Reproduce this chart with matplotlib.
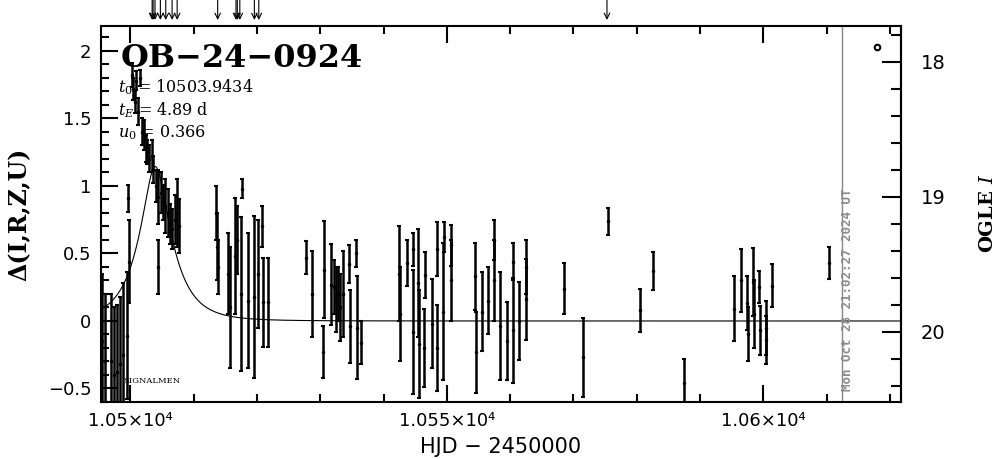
import numpy as np
import matplotlib
matplotlib.use('Agg')
import matplotlib.pyplot as plt
from matplotlib.ticker import MultipleLocator, FixedLocator, FixedFormatter

## OGLE light curve with a point-lens model

# event and model parameters (from the plot text)
event_name = "OB\u221224\u22120924"
t0 = 10503.9434
tE = 4.89
u0 = 0.366
i_base = 19.92          # OGLE I magnitude at delta = 0
now_hjd = 10612.38      # time stamp line

# photometry: HJD-2450000, delta mag, error
hjd = [10495.5, 10496.0, 10496.9, 10497.4, 10497.9, 10498.4, 10498.9, 10499.4,
       10499.6, 10499.8,
       10500.3, 10500.5, 10500.7, 10500.9, 10501.2, 10501.5, 10501.8, 10502.1,
       10502.4, 10502.7, 10503.0, 10503.4, 10503.6, 10504.0, 10504.3, 10504.4,
       10504.8, 10505.1, 10505.5, 10505.9, 10506.3, 10506.6, 10507.0, 10507.4,
       10507.7,
       10513.5, 10513.7, 10513.9, 10515.5, 10515.8, 10516.6, 10516.9, 10517.6,
       10517.5, 10518.6, 10519.6, 10520.2, 10520.8, 10520.9, 10521.7,
       10527.8, 10528.7, 10530.5, 10530.65, 10531.7, 10532.2, 10532.5, 10532.8,
       10533.2, 10533.55, 10534.6, 10534.65, 10535.65, 10535.8, 10536.45,
       10542.4, 10542.6, 10543.7, 10544.6, 10544.7, 10545.5, 10545.6, 10546.45,
       10546.55, 10547.6, 10548.4, 10548.5, 10549.45, 10549.6, 10550.6, 10550.65,
       10554.4, 10554.6, 10555.55, 10556.55, 10557.45, 10557.5, 10558.4, 10559.55,
       10560.5, 10560.4, 10561.45, 10562.5, 10562.55,
       10568.55, 10571.5, 10575.5, 10580.5, 10582.5, 10587.5,
       10595.35, 10596.4, 10597.4, 10597.55, 10598.4, 10598.5, 10599.35, 10599.5,
       10600.4, 10600.5, 10601.4, 10610.4]
delta = [-0.15, -0.30, -0.30, -0.40, -0.38, -0.32, -0.25, -0.11,
         0.91, 0.44,
         1.82, 1.72, 1.62, 1.78, 1.55, 1.80, 1.40, 1.38,
         1.28, 1.25, 1.20, 1.22, 1.12, 1.00, 0.92, 0.40,
         0.95, 0.88, 0.85, 0.80, 0.72, 0.68, 0.75, 0.80,
         0.70,
         0.80, 0.55, 0.40, 0.35, 0.10, 0.48, 0.60, 0.98,
         0.20, 0.15, 0.18, 0.35, 0.70, 0.14, 0.14,
         0.47, 0.20, -0.23, 0.38, 0.27, 0.25, 0.16, 0.20,
         0.10, 0.20, 0.42, -0.04, 0.50, -0.05, -0.16,
         0.35, 0.05, 0.43, -0.08, 0.53, 0.28, -0.17, -0.20,
         0.34, -0.02, 0.53, -0.20, 0.07, 0.62, 0.56, 0.30,
         0.33, -0.23, 0.07, 0.15, 0.60, 0.30, -0.04, -0.15,
         0.44, -0.07, 0.00, 0.40, 0.16,
         0.24, -0.27, 0.74, 0.08, 0.37, -0.46,
         0.09, 0.30, 0.13, -0.10, 0.29, 0.05, 0.25, -0.07,
         -0.05, -0.14, 0.26, 0.43]
err = [0.50, 0.50, 0.50, 0.50, 0.50, 0.50, 0.53, 0.47,
       0.10, 0.31,
       0.09, 0.08, 0.08, 0.07, 0.10, 0.06, 0.10, 0.11,
       0.10, 0.09, 0.10, 0.12, 0.10, 0.12, 0.20, 0.20,
       0.15, 0.13, 0.20, 0.18, 0.15, 0.15, 0.18, 0.25,
       0.20,
       0.20, 0.25, 0.20, 0.30, 0.45, 0.43, 0.25, 0.07,
       0.57, 0.50, 0.60, 0.40, 0.15, 0.33, 0.33,
       0.12, 0.32, 0.19, 0.36, 0.30, 0.20, 0.24, 0.20,
       0.25, 0.32, 0.14, 0.27, 0.10, 0.38, 0.16,
       0.35, 0.35, 0.17, 0.46, 0.12, 0.40, 0.40, 0.29,
       0.17, 0.33, 0.20, 0.32, 0.51, 0.11, 0.15, 0.30,
       0.25, 0.30, 0.29, 0.25, 0.15, 0.30, 0.40, 0.29,
       0.14, 0.39, 0.29, 0.20, 0.30,
       0.19, 0.29, 0.10, 0.16, 0.14, 0.18,
       0.24, 0.23, 0.20, 0.20, 0.25, 0.25, 0.12, 0.18,
       0.20, 0.18, 0.16, 0.12]

# alert arrows along the top
alert_times = [10503.45, 10503.6, 10503.9, 10504.75, 10505.6, 10506.6, 10507.4,
               10513.8, 10516.7, 10516.9, 10517.3, 10519.6, 10520.3, 10575.3]

xtick_vals = [10500, 10550, 10600]
xtick_labels = ['1.05\u00d710\u2074', '1.055\u00d710\u2074', '1.06\u00d710\u2074']
mag_ticks = [18, 19, 20]


def magnification(t):
    u = np.sqrt(u0**2 + ((t - t0) / tE)**2)
    return (u**2 + 2) / (u * np.sqrt(u**2 + 4))


plt.rcParams['mathtext.fontset'] = 'dejavuserif'
fig = plt.figure(figsize=(10.04, 4.59), dpi=100)
ax = fig.add_axes([0.1006, 0.1242, 0.7968, 0.8192])

xmin, xmax = 10495.37, 10621.75
ax.set_xlim(xmin, xmax)
ax.set_ylim(-0.60, 2.185)

# model curve
tt = np.linspace(xmin, xmax, 2000)
ax.plot(tt, 2.5 * np.log10(magnification(tt)), color='black', lw=0.8)

# data
ax.errorbar(hjd, delta, yerr=err, fmt='.', color='black', markersize=3,
            elinewidth=1.8, capsize=1.5, capthick=1.5)

# time-stamp line and text
ax.axvline(now_hjd, color='#888888', lw=1)
ax.text(now_hjd + 0.9, -0.52, 'Mon Oct 28 21:02:27 2024 UT', rotation=90,
        ha='center', va='bottom', color='#8c8c8c', fontsize=9,
        family='DejaVu Sans Mono', fontweight='bold')

# OGLE symbol
ax.plot([10617.96], [2.03], 'o', mfc='white', mec='black', ms=4, mew=1.5)

# labels inside the frame
ax.text(0.025, 0.891, event_name, transform=ax.transAxes, fontsize=23,
        family='DejaVu Serif', fontweight='bold', va='baseline')
ax.text(0.021, 0.824, r'$t_0$ = 10503.9434', transform=ax.transAxes,
        fontsize=11.5, family='DejaVu Serif', va='baseline')
ax.text(0.021, 0.763, r'$t_E$ = 4.89 d', transform=ax.transAxes,
        fontsize=11.5, family='DejaVu Serif', va='baseline')
ax.text(0.021, 0.705, r'$u_0$ = 0.366', transform=ax.transAxes,
        fontsize=11.5, family='DejaVu Serif', va='baseline')
ax.text(0.0275, 0.05, 'SIGNALMEN', transform=ax.transAxes, fontsize=6,
        family='DejaVu Serif', va='baseline')

# alert arrows
for t in alert_times:
    ax.annotate('', xy=(t, 1.016), xytext=(t, 1.069),
                xycoords=('data', 'axes fraction'),
                textcoords=('data', 'axes fraction'),
                arrowprops=dict(arrowstyle='->', lw=0.8, color='black',
                                shrinkA=0, shrinkB=0),
                annotation_clip=False)

# axes styling
for s in ax.spines.values():
    s.set_linewidth(1.5)
ax.xaxis.set_major_locator(FixedLocator(xtick_vals))
ax.xaxis.set_major_formatter(FixedFormatter(xtick_labels))
ax.xaxis.set_minor_locator(MultipleLocator(10))
ax.yaxis.set_major_locator(MultipleLocator(0.5))
ax.yaxis.set_minor_locator(MultipleLocator(0.1))
ax.yaxis.set_major_formatter(plt.FuncFormatter(
    lambda v, p: ('%g' % v).replace('-', '\u2212')))
ax.tick_params(which='both', direction='in', top=True, right=False, width=1.5)
ax.tick_params(which='major', length=12, labelsize=13, pad=7)
ax.tick_params(which='minor', length=6)

ax.set_xlabel('HJD \u2212 2450000', fontsize=15, labelpad=5)
ax.set_ylabel('\u0394(I,R,Z,U)', fontsize=17, family='DejaVu Serif',
              fontweight='bold', labelpad=12)

# right axis in OGLE I magnitudes
sec = ax.secondary_yaxis('right', functions=(lambda d: i_base - d,
                                             lambda m: i_base - m))
sec.set_yticks(mag_ticks)
sec.yaxis.set_minor_locator(MultipleLocator(0.2))
sec.tick_params(which='both', direction='in', width=1.5)
sec.tick_params(which='major', length=14, labelsize=14, pad=14)
sec.tick_params(which='minor', length=7)
sec.spines['right'].set_linewidth(1.5)
sec.set_ylabel('OGLE $I$', fontsize=14, family='DejaVu Serif',
               fontweight='bold', labelpad=24)

fig.savefig('out.png', dpi=100)
